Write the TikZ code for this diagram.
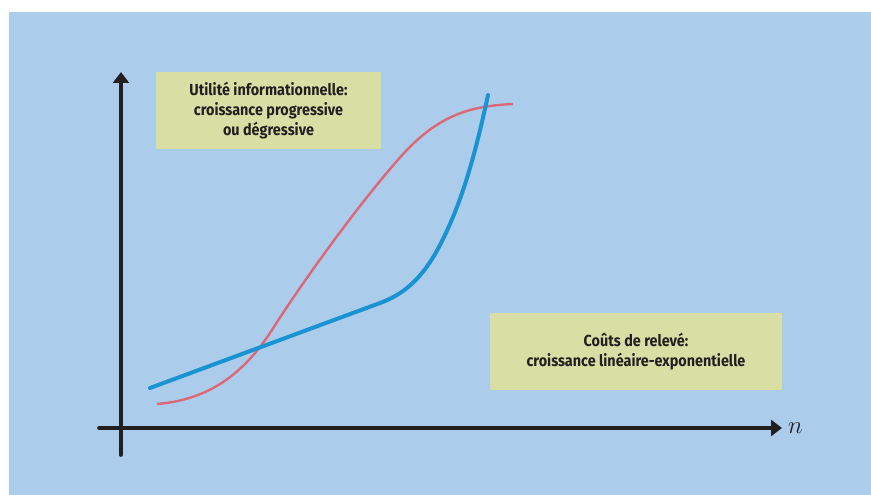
\documentclass[tikz,border=0pt]{standalone}
\usepackage{fontspec}
\newfontfamily\boxfont{Fira Sans}[FakeStretch=0.9]
\usepackage{tikz}
\usetikzlibrary{positioning}
\usetikzlibrary{arrows.meta}
\definecolor{skyback}{HTML}{ABCDEB}
\definecolor{boxfill}{HTML}{D9DEA4}
\definecolor{axisgray}{HTML}{231F20}
\definecolor{costblue}{HTML}{1A93D3}
\definecolor{utilred}{HTML}{DC6877}
\tikzset{label box/.style={fill=boxfill,inner sep=0pt,minimum height=77pt,align=center,text=axisgray,font=\boxfont\bfseries\fontsize{16}{20}\selectfont},
  axis line/.style={draw=axisgray,line width=3.6pt,line cap=round,-{Triangle[length=11pt,width=16pt]}},}

\begin{document}
\begin{tikzpicture}[x=1pt,y=-1pt]
    \useasboundingbox (0,0) rectangle (871,495);
    \fill[skyback] (9,12) rectangle (871,495);

    % axes
    \coordinate (ybot) at (121,455);
    \coordinate (ytop) at (121,72);
    \coordinate (xleft) at (99,428);
    \coordinate (xright) at (782,428);
    \draw[axis line] (ybot) -- (ytop);
    \draw[axis line] (xleft) -- (xright);
    \node (n) [right = 6pt of xright, font=\fontsize{26}{26}\selectfont, text=axisgray, inner sep=0pt] {$n$};

    % boxes
    \node[label box,minimum width=225pt] (utility) at (268.5,110.5) {Utilité informationnelle:\\croissance progressive\\ou dégressive};
    \node[label box,minimum width=292pt] (cost) at (636,351.5) {Coûts de relevé:\\croissance linéaire-exponentielle};

    % curves
    \draw[utilred,line width=2.4pt] (157,404) .. controls (205,400) and (240,378) .. (270,333) .. controls (310,270) and (370,190) .. (405,152) .. controls (440,115) and (470,106) .. (513,104);
    \draw[costblue,line width=4pt,line cap=round] (150,388) -- (380,303) .. controls (402,295) and (422,280) .. (440,245) .. controls (458,210) and (472,170) .. (488,95);
\end{tikzpicture}
\end{document}
